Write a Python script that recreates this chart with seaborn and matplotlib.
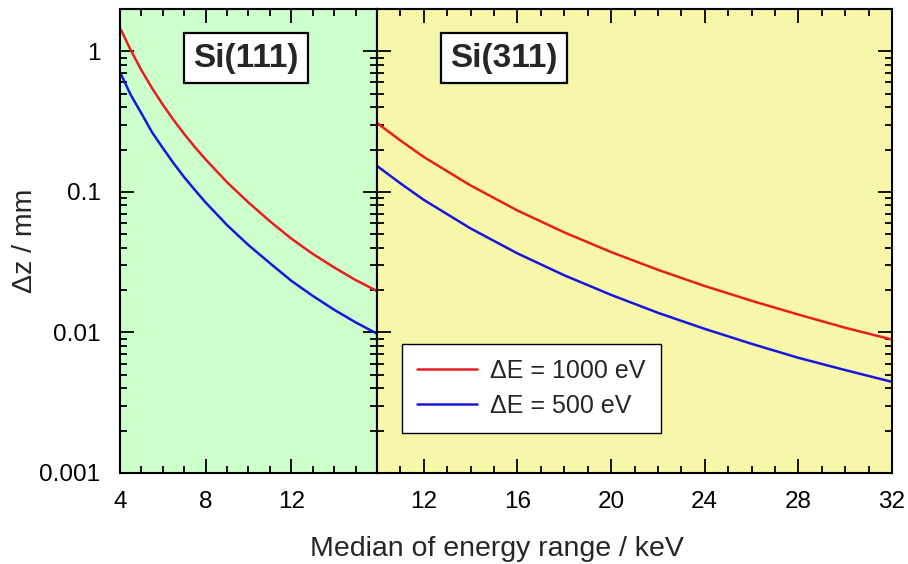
import numpy as np
import pandas as pd
import seaborn as sns
import matplotlib.pyplot as plt
from matplotlib.ticker import LogLocator, NullFormatter, FixedFormatter, FixedLocator

# values
e_111 = [4, 4.5, 5, 5.5, 6, 6.5, 7, 7.5, 8, 9, 10, 11, 12, 13, 14, 15, 16]
dz_111_1000 = [1.47, 1.02, 0.734, 0.546, 0.417, 0.325, 0.258, 0.208, 0.170, 0.117,
               0.084, 0.0618, 0.0465, 0.0362, 0.0290, 0.0236, 0.0197]
dz_111_500 = [0.71, 0.49, 0.362, 0.265, 0.205, 0.160, 0.127, 0.103, 0.084, 0.058,
              0.0418, 0.0311, 0.0233, 0.0182, 0.0145, 0.0118, 0.0098]

e_311 = [10, 11, 12, 14, 16, 18, 20, 22, 24, 26, 28, 30, 32]
dz_311_1000 = [0.309, 0.232, 0.177, 0.111, 0.0737, 0.0515, 0.0373, 0.0279, 0.0214,
               0.0168, 0.0134, 0.0108, 0.0089]
dz_311_500 = [0.153, 0.115, 0.0877, 0.0549, 0.0365, 0.0255, 0.0185, 0.0138, 0.0106,
              0.0083, 0.0066, 0.0054, 0.00445]

labels = ['\u0394E = 1000 eV', '\u0394E = 500 eV']
colors = {labels[0]: '#e81e1e', labels[1]: '#1616e0'}

sns.set_style('ticks')
plt.rcParams['font.family'] = ['Liberation Sans', 'DejaVu Sans']
plt.rcParams['xtick.direction'] = 'in'
plt.rcParams['ytick.direction'] = 'in'


def make_df(e, a, b):
    return pd.DataFrame({
        'E': list(e) + list(e),
        'dz': list(a) + list(b),
        'series': [labels[0]] * len(e) + [labels[1]] * len(e),
    })


df_111 = make_df(e_111, dz_111_1000, dz_111_500)
df_311 = make_df(e_311, dz_311_1000, dz_311_500)

fig = plt.figure(figsize=(9.08, 5.64), dpi=100)
ax1 = fig.add_axes([120 / 908, 1 - 473 / 564, 257 / 908, 464 / 564])
ax2 = fig.add_axes([377 / 908, 1 - 473 / 564, 515 / 908, 464 / 564])

sns.lineplot(data=df_111, x='E', y='dz', hue='series', palette=colors, ax=ax1,
             legend=False, linewidth=1.8)
sns.lineplot(data=df_311, x='E', y='dz', hue='series', palette=colors, ax=ax2,
             linewidth=1.8)

ax1.set_facecolor('#ccffcc')
ax2.set_facecolor('#f7f7aa')

for ax in (ax1, ax2):
    ax.set_yscale('log')
    ax.set_ylim(0.001, 2.0)
    ax.yaxis.set_minor_locator(LogLocator(base=10, subs=np.arange(2, 10)))
    ax.yaxis.set_minor_formatter(NullFormatter())
    ax.tick_params(which='both', top=True, right=True, left=True, bottom=True,
                   width=1.3, labelsize=17.5, colors='black')
    ax.tick_params(which='major', length=10)
    ax.tick_params(which='minor', length=5)
    for s in ax.spines.values():
        s.set_linewidth(1.5)
        s.set_color('black')
    ax.set_xlabel('')
    ax.set_ylabel('')

ax1.set_xlim(4, 16)
ax2.set_xlim(10, 32)

ax1.xaxis.set_major_locator(FixedLocator([4, 8, 12, 16]))
ax1.xaxis.set_major_formatter(FixedFormatter(['4', '8', '12', '']))
ax1.xaxis.set_minor_locator(FixedLocator([5, 6, 7, 9, 10, 11, 13, 14, 15]))
ax2.xaxis.set_major_locator(FixedLocator([12, 16, 20, 24, 28, 32]))
ax2.xaxis.set_major_formatter(FixedFormatter(['12', '16', '20', '24', '28', '32']))
ax2.xaxis.set_minor_locator(FixedLocator([10, 11, 13, 14, 15, 17, 18, 19, 21, 22, 23,
                                          25, 26, 27, 29, 30, 31]))

ax1.yaxis.set_major_locator(FixedLocator([0.001, 0.01, 0.1, 1]))
ax1.yaxis.set_major_formatter(FixedFormatter(['0.001', '0.01', '0.1', '1']))
ax2.yaxis.set_major_locator(FixedLocator([0.001, 0.01, 0.1, 1]))
ax2.tick_params(axis='y', labelleft=False)
ax1.tick_params(axis='x', pad=13)
ax2.tick_params(axis='x', pad=13)
ax1.tick_params(axis='y', pad=14)

ax1.set_ylabel('\u0394z / mm', fontsize=20.5, labelpad=1)
fig.text(497 / 908, 1 - 549 / 564, 'Median of energy range / keV', fontsize=20.5,
         ha='center', va='center')

box = dict(boxstyle='square,pad=0.28', facecolor='white', edgecolor='black', linewidth=1.6)
ax1.text(0.49, 0.894, 'Si(111)', transform=ax1.transAxes, fontsize=24,
         fontweight='bold', ha='center', va='center', bbox=box)
ax2.text(0.247, 0.894, 'Si(311)', transform=ax2.transAxes, fontsize=24,
         fontweight='bold', ha='center', va='center', bbox=box)

leg = ax2.legend(loc='lower left', bbox_to_anchor=(0.048, 0.086), fontsize=18,
                 frameon=True, fancybox=False, handlelength=2.4, borderpad=0.6,
                 labelspacing=0.45, handletextpad=0.55, borderaxespad=0)
leg.get_frame().set_edgecolor('black')
leg.get_frame().set_linewidth(1.0)
leg.get_frame().set_alpha(1)
leg.set_title(None)

fig.savefig('out.png', dpi=100)
